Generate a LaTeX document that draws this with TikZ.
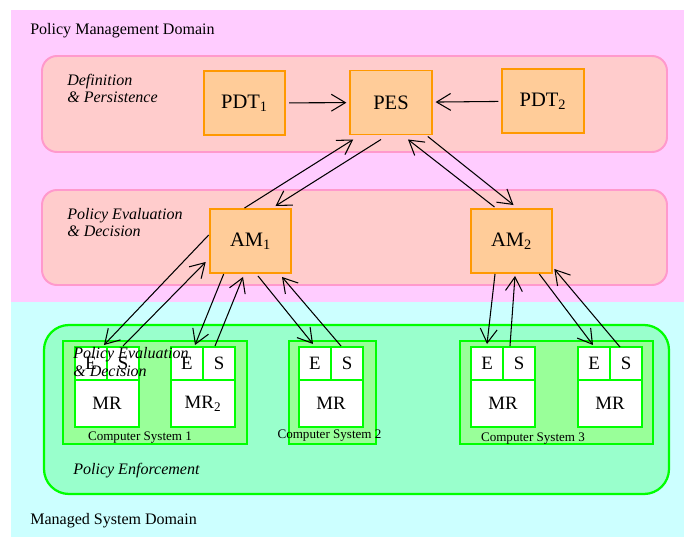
\documentclass[tikz,border=0pt]{standalone}
\usepackage{fontspec}
\setmainfont{Liberation Serif}
\usetikzlibrary{arrows.meta,calc}
\definecolor{mgmtbg}{HTML}{FFCCFF}
\definecolor{sysbg}{HTML}{CCFFFF}
\definecolor{bandfill}{HTML}{FFCCCC}
\definecolor{bandline}{HTML}{FF99CC}
\definecolor{boxfill}{HTML}{FFCC99}
\definecolor{boxline}{HTML}{FF9900}
\definecolor{enffill}{HTML}{99FFCC}
\definecolor{sysfill}{HTML}{99FF99}
\definecolor{green}{HTML}{00FF00}

\tikzset{
  band/.style={draw=bandline, fill=bandfill, line width=1.4pt, rounded corners=0.375cm},
  enfband/.style={draw=green, fill=enffill, line width=1.6pt, rounded corners=0.625cm},
  sysbox/.style={draw=green, fill=sysfill, line width=1.4pt},
  pbox/.style={draw=boxline, fill=boxfill, line width=1.4pt, minimum width=2.04cm,
    minimum height=1.6cm, font=\fontsize{14.6}{16}\selectfont},
  cell/.style={draw=green, fill=white, line width=1.4pt, minimum width=0.8cm,
    minimum height=0.825cm, inner sep=0pt, font=\fontsize{13.4}{15}\selectfont},
  mrcell/.style={cell, minimum width=1.6cm, minimum height=1.175cm},
  lbl/.style={anchor=base west, inner sep=0pt, font=\fontsize{11.4}{13}\selectfont},
  ilbl/.style={anchor=base west, inner sep=0pt, align=left,
    font=\fontsize{11.4}{12.6}\selectfont\itshape},
  cslbl/.style={anchor=base, inner sep=0pt, font=\fontsize{9.3}{11}\selectfont},
  arr/.style={-{Straight Barb[length=10pt,width=12pt]}, line width=0.75pt, black}
}

\begin{document}
\begin{tikzpicture}[x=0.025cm, y=-0.025cm]
    \useasboundingbox (0,0) rectangle (684,537);

    % domains and layers
    \fill[mgmtbg] (11,10) rectangle (684,302);
    \fill[sysbg] (11,302) rectangle (684,537);
    \draw[band] (42,56) rectangle (667,152);
    \draw[band] (42,190) rectangle (667,285);
    \draw[enfband] (44,325) rectangle (669,494);
    \draw[sysbox] (63,341) rectangle (247,444);
    \draw[sysbox] (289,341) rectangle (376,444);
    \draw[sysbox] (460,341) rectangle (653,444);

    \node[lbl] (mgmt) at (30,35) {Policy Management Domain};
    \node[lbl] (managed) at (30,524) {Managed System Domain};
    \node[ilbl] (defin) at (67,103) {Definition\\\& Persistence};
    \node[ilbl] (evald) at (67,237) {Policy Evaluation\\\& Decision};
    \node[ilbl] (enforce) at (73,474) {Policy Enforcement};

    \node[pbox] (pdt1) at (244.5,103) {PDT\textsubscript{1}};
    \node[pbox] (pes) at (391,102.5) {PES};
    \node[pbox] (pdt2) at (543,101) {PDT\textsubscript{2}};
    \node[pbox] (am1) at (250.5,241) {AM\textsubscript{1}};
    \node[pbox] (am2) at (511.5,241) {AM\textsubscript{2}};

    % managed resources
    \node[cell] (e1) at (91,363.5) {E};
    \node[cell] (s1) at (123,363.5) {S};
    \node[mrcell] (mr1) at (107,403.5) {MR};
    \node[cell] (e2) at (187,363.5) {E};
    \node[cell] (s2) at (219,363.5) {S};
    \node[mrcell] (mr2) at (203,403.5) {MR\textsubscript{2}};
    \node[cell] (e3) at (315,363.5) {E};
    \node[cell] (s3) at (347,363.5) {S};
    \node[mrcell] (mr3) at (331,403.5) {MR};
    \node[cell] (e4) at (487,363.5) {E};
    \node[cell] (s4) at (519,363.5) {S};
    \node[mrcell] (mr4) at (503,403.5) {MR};
    \node[cell] (e5) at (594,363.5) {E};
    \node[cell] (s5) at (626,363.5) {S};
    \node[mrcell] (mr5) at (610,403.5) {MR};

    \node[cslbl] (cs1) at (140,440) {Computer System 1};
    \node[cslbl] (cs2) at (329.5,438) {Computer System 2};
    \node[cslbl] (cs3) at (533,441) {Computer System 3};
    \node[ilbl] (evaldup) at (73,376) {Policy Evaluation\\\& Decision};

    \path[arr]
    (pdt1) edge [shorten <=2pt, shorten >=2pt] (pes)
    (pdt2) edge [shorten <=2pt, shorten >=2pt] (pes)

    ($(am1.north)+(-6,0)$) edge ($(pes.south west)+(4,4)$)
    ($(pes.south)+(-10,4)$) edge ($(am1.north)+(25,-2)$)
    ($(am2.north)+(-17,-1)$) edge ($(pes.south)+(17,4)$)
    ($(pes.south east)+(-5,1)$) edge ($(am2.north)+(2,-3)$)

    ($(am1.west)+(0,-6)$) edge ($(e1.north east)+(-4,-1)$)
    (s1.north) edge ($(am1.south west)+(-3,-12)$)
    ($(am1.south west)+(15,0)$) edge ($(e2.north)+(8,-1)$)
    ($(s2.north)+(-4,0)$) edge ($(am1.south)+(-7.5,3)$)
    ($(am1.south)+(7.5,2)$) edge ($(e3.north)+(-2,-2)$)
    ($(s3.north)+(-6,0)$) edge ($(am1.south)+(31.5,3)$)

    ($(am2.south)+(-16.5,0)$) edge ($(e4.north)+(0,-2)$)
    ($(s4.north)+(-9,0)$) edge ($(am2.south)+(3.5,2)$)
    ($(am2.south east)+(-14,0)$) edge ($(e5.north)+(-1,-1)$)
    ($(s5.north)+(-6,1)$) edge ($(am2.south east)+(1,-5)$);
\end{tikzpicture}
\end{document}
